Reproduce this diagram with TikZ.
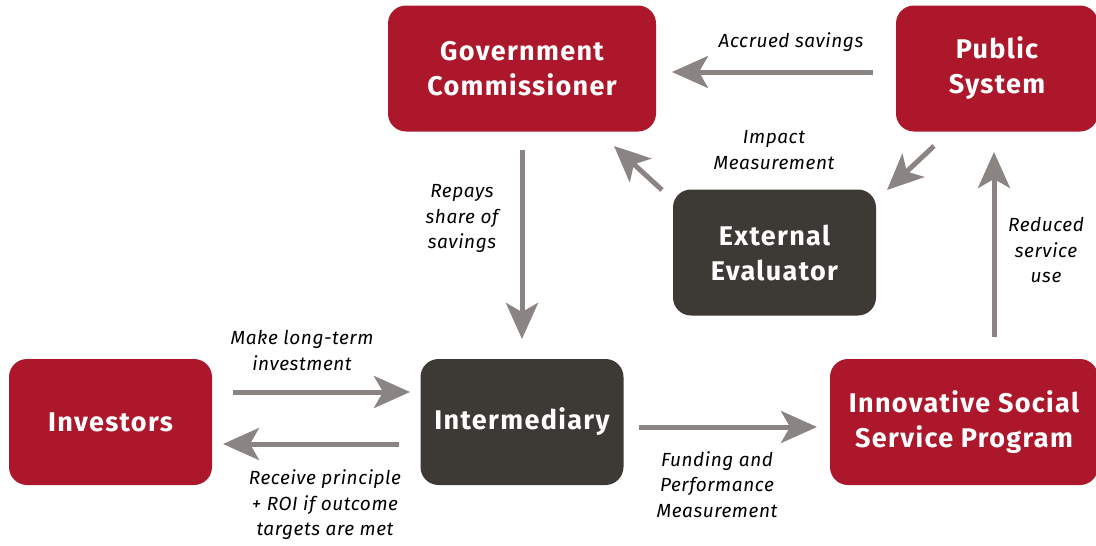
\documentclass[tikz,border=0pt]{standalone}
\usepackage{fontspec}
\setmainfont{Fira Sans}
\newfontfamily\boxfont{Fira Sans}[LetterSpace=5]
\newfontfamily\lblfont{Fira Sans}[LetterSpace=3]
\usetikzlibrary{arrows.meta}
\definecolor{boxred}{HTML}{AD172B}
\definecolor{boxdark}{HTML}{3D3935}
\definecolor{arrowgray}{HTML}{8A8583}
\tikzset{
  box/.style={rounded corners=18pt, minimum height=126pt, text=white, align=center,
    font=\boxfont\fontsize{27}{35}\selectfont\bfseries, inner sep=0pt},
  redbox/.style={box, fill=boxred},
  darkbox/.style={box, fill=boxdark},
  flow/.style={draw=arrowgray, line width=5pt, -{Stealth[length=36pt,width=32pt,inset=9pt]}},
  lbl/.style={font=\lblfont\fontsize{19}{25.5}\selectfont\itshape, align=center, text=black, inner sep=0pt}
}
\begin{document}
\begin{tikzpicture}[x=1pt,y=-1pt]
\useasboundingbox (0,0) rectangle (1096,546);
\node[redbox, minimum width=268pt] (gov) at (522,68.5) {Government\\Commissioner};
\node[redbox, minimum width=202pt] (pub) at (997,68.5) {Public\\System};
\node[darkbox, minimum width=203pt] (ext) at (774.5,252.5) {External\\Evaluator};
\node[redbox, minimum width=203pt] (inv) at (110.5,422) {Investors};
\node[darkbox, minimum width=203pt] (int) at (522,422) {Intermediary};
\node[redbox, minimum width=268pt] (iss) at (964,422) {Innovative Social\\Service Program};

\coordinate (a1s) at (873,72); \coordinate (a1e) at (672,72);
\draw[flow] (a1s) -- (a1e);
\node[lbl] (l1) at (791,42) {Accrued savings};

\coordinate (a2s) at (934,146); \coordinate (a2e) at (887,190);
\draw[flow] (a2s) -- (a2e);
\coordinate (a3s) at (662,190); \coordinate (a3e) at (614,146);
\draw[flow] (a3s) -- (a3e);
\node[lbl] (l2) at (774,150) {Impact\\Measurement};

\coordinate (a4s) at (522,150); \coordinate (a4e) at (522,339);
\draw[flow] (a4s) -- (a4e);
\node[lbl] (l3) at (462,219) {Repays\\share of\\savings};

\coordinate (a5s) at (994,337); \coordinate (a5e) at (994,152);
\draw[flow] (a5s) -- (a5e);
\node[lbl] (l4) at (1046,250.5) {Reduced\\service\\use};

\coordinate (a6s) at (233,392); \coordinate (a6e) at (410,392);
\draw[flow] (a6s) -- (a6e);
\node[lbl] (l5) at (302,350.5) {Make long-term\\investment};

\coordinate (a7s) at (399,444); \coordinate (a7e) at (223,444);
\draw[flow] (a7s) -- (a7e);
\node[lbl] (l6) at (325,505) {Receive principle\\+ ROI if outcome\\targets are met};

\coordinate (a8s) at (639,427); \coordinate (a8e) at (817,427);
\draw[flow] (a8s) -- (a8e);
\node[lbl] (l7) at (717,484.5) {Funding and\\Performance\\Measurement};
\end{tikzpicture}
\end{document}
